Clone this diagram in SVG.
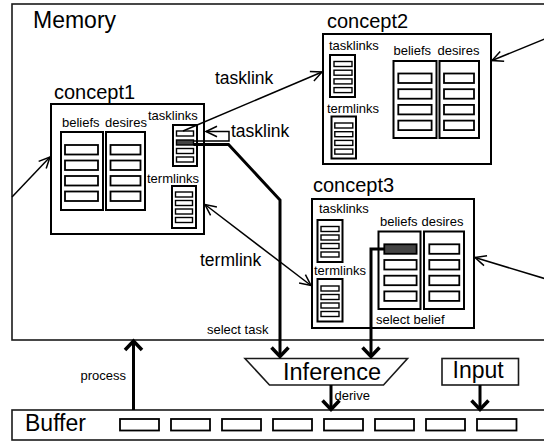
<svg xmlns="http://www.w3.org/2000/svg" width="544" height="441" viewBox="0 0 544 441">
  <style>
    text { font-family: "Liberation Sans", Arial, sans-serif; fill: #000; }
    .big { font-size: 23px; }
    .cname { font-size: 20px; }
    .small { font-size: 13px; }
    .link { font-size: 17.5px; }
    .frame { fill: #fff; stroke: #1a1a1a; stroke-width: 1.6; }
    .box { fill: #fff; stroke: #000; stroke-width: 2; }
    .col { fill: #fff; stroke: #000; stroke-width: 2; }
    .item { fill: #fff; stroke: #000; stroke-width: 1.8; }
    .litem { fill: #fff; stroke: #000; stroke-width: 1.4; }
    .sel { fill: #444; }
    .thin { fill: none; stroke: #000; stroke-width: 1.5; }
    .thick { fill: none; stroke: #000; stroke-width: 3; }
  </style>
  <defs>
    <marker id="arrow" markerUnits="userSpaceOnUse" viewBox="-13 -7 15 14" refX="0" refY="0" markerWidth="15" markerHeight="14" orient="auto-start-reverse">
      <path d="M-11,-5.2 L0,0 L-11,5.2" fill="none" stroke="#000" stroke-width="1.5"/>
    </marker>
    <marker id="head" markerUnits="userSpaceOnUse" viewBox="-14 -12 18 24" refX="0" refY="0" markerWidth="18" markerHeight="24" orient="auto">
      <path d="M-9,-8.5 L0,0 L-9,8.5" fill="none" stroke="#000" stroke-width="3.5"/>
    </marker>
  </defs>

  <!-- memory area -->
  <g id="memory">
    <rect class="frame" x="12" y="4" width="560" height="336"/>
    <text class="big" x="33" y="28">Memory</text>
  </g>

  <!-- concept1 -->
  <g id="concept1">
    <text class="cname" x="54" y="99">concept1</text>
    <rect class="box" x="51" y="104" width="153" height="130"/>
    <text class="small" x="62" y="127">beliefs</text>
    <text class="small" x="105" y="127">desires</text>
    <rect class="col" x="61" y="132" width="42" height="78"/>
    <rect class="item" x="65" y="145" width="33" height="9.5"/>
    <rect class="item" x="65" y="160.5" width="33" height="9.5"/>
    <rect class="item" x="65" y="176" width="33" height="9.5"/>
    <rect class="item" x="65" y="191.5" width="33" height="9.5"/>
    <rect class="col" x="106" y="132" width="39" height="78"/>
    <rect class="item" x="110.5" y="145" width="30" height="9.5"/>
    <rect class="item" x="110.5" y="160.5" width="30" height="9.5"/>
    <rect class="item" x="110.5" y="176" width="30" height="9.5"/>
    <rect class="item" x="110.5" y="191.5" width="30" height="9.5"/>
    <text class="small" x="148" y="120">tasklinks</text>
    <rect class="col" x="173" y="125" width="24" height="41"/>
    <rect class="litem" x="176.5" y="131" width="17" height="5"/>
    <rect class="litem sel" x="176.5" y="140" width="17" height="5"/>
    <rect class="litem" x="176.5" y="148.5" width="17" height="5"/>
    <rect class="litem" x="176.5" y="157" width="17" height="5"/>
    <text class="small" x="147" y="183">termlinks</text>
    <rect class="col" x="172" y="186" width="24" height="42"/>
    <rect class="litem" x="175.5" y="192" width="17" height="5"/>
    <rect class="litem" x="175.5" y="200.5" width="17" height="5"/>
    <rect class="litem" x="175.5" y="209" width="17" height="5"/>
    <rect class="litem" x="175.5" y="217.5" width="17" height="5"/>
  </g>

  <!-- concept2 -->
  <g id="concept2">
    <text class="cname" x="327" y="27.5">concept2</text>
    <rect class="box" x="323" y="34" width="168" height="130"/>
    <text class="small" x="329" y="50">tasklinks</text>
    <rect class="col" x="330" y="55" width="25" height="42"/>
    <rect class="litem" x="334" y="61.5" width="18" height="5"/>
    <rect class="litem" x="334" y="70.2" width="18" height="5"/>
    <rect class="litem" x="334" y="78.9" width="18" height="5"/>
    <rect class="litem" x="334" y="87.6" width="18" height="5"/>
    <text class="small" x="327" y="113">termlinks</text>
    <rect class="col" x="331.5" y="116.5" width="24.5" height="42"/>
    <rect class="litem" x="334.8" y="123" width="18" height="5"/>
    <rect class="litem" x="334.8" y="131.7" width="18" height="5"/>
    <rect class="litem" x="334.8" y="140.4" width="18" height="5"/>
    <rect class="litem" x="334.8" y="149.1" width="18" height="5"/>
    <text class="small" x="393.5" y="55">beliefs</text>
    <text class="small" x="437.5" y="55">desires</text>
    <rect class="col" x="393.5" y="61" width="43" height="77"/>
    <rect class="item" x="398.3" y="73.5" width="33.3" height="9.5"/>
    <rect class="item" x="398.3" y="89.2" width="33.3" height="9.5"/>
    <rect class="item" x="398.3" y="104.9" width="33.3" height="9.5"/>
    <rect class="item" x="398.3" y="120.6" width="33.3" height="9.5"/>
    <rect class="col" x="439.5" y="61" width="39.5" height="77"/>
    <rect class="item" x="444" y="73.5" width="30" height="9.5"/>
    <rect class="item" x="444" y="89.2" width="30" height="9.5"/>
    <rect class="item" x="444" y="104.9" width="30" height="9.5"/>
    <rect class="item" x="444" y="120.6" width="30" height="9.5"/>
  </g>

  <!-- concept3 -->
  <g id="concept3">
    <text class="cname" x="313" y="191.5">concept3</text>
    <rect class="box" x="312" y="199" width="162" height="129"/>
    <text class="small" x="319" y="212.5">tasklinks</text>
    <rect class="col" x="317.5" y="220" width="25" height="42"/>
    <rect class="litem" x="321" y="226.5" width="18" height="5"/>
    <rect class="litem" x="321" y="235" width="18" height="5"/>
    <rect class="litem" x="321" y="243.5" width="18" height="5"/>
    <rect class="litem" x="321" y="252" width="18" height="5"/>
    <text class="small" x="314" y="275">termlinks</text>
    <rect class="col" x="317.5" y="279" width="25" height="42.5"/>
    <rect class="litem" x="321" y="286" width="18" height="5"/>
    <rect class="litem" x="321" y="294.5" width="18" height="5"/>
    <rect class="litem" x="321" y="303" width="18" height="5"/>
    <rect class="litem" x="321" y="311.5" width="18" height="5"/>
    <text class="small" x="380" y="225.5">beliefs</text>
    <text class="small" x="421.5" y="225.5">desires</text>
    <rect class="col" x="378.5" y="231.5" width="42" height="77.5"/>
    <rect class="item sel" x="384.3" y="244.3" width="32.3" height="9.5"/>
    <rect class="item" x="384.3" y="260" width="32.3" height="9.5"/>
    <rect class="item" x="384.3" y="275.7" width="32.3" height="9.5"/>
    <rect class="item" x="384.3" y="291.4" width="32.3" height="9.5"/>
    <rect class="col" x="424" y="231.5" width="40" height="77.5"/>
    <rect class="item" x="429.3" y="244.3" width="30" height="9.5"/>
    <rect class="item" x="429.3" y="260" width="30" height="9.5"/>
    <rect class="item" x="429.3" y="275.7" width="30" height="9.5"/>
    <rect class="item" x="429.3" y="291.4" width="30" height="9.5"/>
    <text class="small" x="376" y="324">select belief</text>
  </g>

  <!-- inference unit -->
  <g id="inference">
    <polygon class="frame" points="245,358.5 407.5,358.5 383.5,385 269.5,385"/>
    <text x="283" y="380" style="font-size:23.5px">Inference</text>
  </g>

  <!-- input -->
  <g id="input">
    <rect class="frame" x="442" y="358.5" width="76.5" height="26.5"/>
    <text x="452.5" y="378.3" style="font-size:23px">Input</text>
  </g>

  <!-- buffer -->
  <g id="buffer">
    <rect class="frame" x="12" y="410" width="560" height="30"/>
    <text x="25" y="431" style="font-size:23px">Buffer</text>
    <rect class="item" x="120" y="419" width="39" height="11.5"/>
    <rect class="item" x="171" y="419" width="39" height="11.5"/>
    <rect class="item" x="222" y="419" width="39" height="11.5"/>
    <rect class="item" x="273" y="419" width="39" height="11.5"/>
    <rect class="item" x="324" y="419" width="39" height="11.5"/>
    <rect class="item" x="375" y="419" width="39" height="11.5"/>
    <rect class="item" x="426" y="419" width="39" height="11.5"/>
    <rect class="item" x="477" y="419" width="39.5" height="11.5"/>
  </g>

  <!-- connectors -->
  <g id="connectors">
    <path class="thin" d="M183,131 L322,72" marker-end="url(#arrow)"/>
    <text class="link" x="215" y="84">tasklink</text>
    <path class="thin" d="M193.5,141 H229 V131.5 H206" marker-end="url(#arrow)"/>
    <text class="link" x="231" y="137">tasklink</text>
    <path class="thin" d="M205,204.5 L311,285.5" marker-start="url(#arrow)" marker-end="url(#arrow)"/>
    <text class="link" x="200" y="266">termlink</text>
    <path class="thin" d="M12,197 L50,157" marker-end="url(#arrow)"/>
    <path class="thin" d="M546,38.5 L492,60.5" marker-end="url(#arrow)"/>
    <path class="thin" d="M546,279 L475,257.5" marker-end="url(#arrow)"/>

    <path class="thick" d="M193.5,144.5 H228.5 L280,200 V356.5" marker-end="url(#head)"/>
    <text class="small" x="207" y="334">select task</text>
    <path class="thick" d="M384.3,249 H371 V356.5" marker-end="url(#head)"/>
    <path class="thick" d="M331,385 V409.5" marker-end="url(#head)"/>
    <text class="small" x="334.5" y="400">derive</text>
    <path class="thick" d="M480,385 V409.5" marker-end="url(#head)"/>
    <path class="thick" d="M133.5,410 V341" marker-end="url(#head)"/>
    <text class="small" x="80.5" y="380">process</text>
  </g>
</svg>
